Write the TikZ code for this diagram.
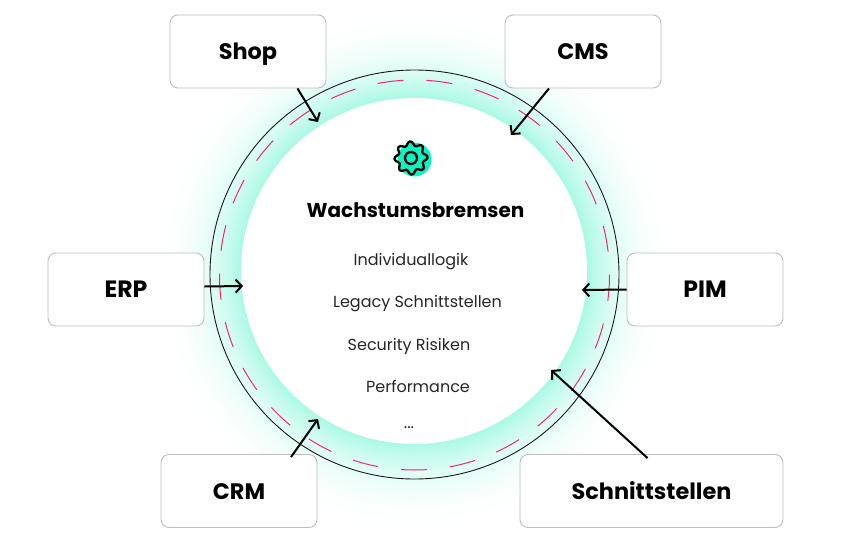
\documentclass[tikz,border=0pt]{standalone}
\usepackage{fontspec}
\setmainfont{Poppins}
\usetikzlibrary{arrows.meta}
\definecolor{mint}{HTML}{A8F9E4}
\definecolor{gearmint}{HTML}{0CF2C0}
\definecolor{dashred}{HTML}{F4286F}
\definecolor{boxgrey}{HTML}{BDBDBD}
\tikzset{
  x=1pt,y=-1pt,
  bx/.style={draw=boxgrey,line width=0.9pt,fill=white,rounded corners=8pt,minimum height=73pt,inner sep=0pt,text height=16pt,text depth=0pt,font=\fontsize{22.4}{26}\selectfont\bfseries},
  conn/.style={draw=black,line width=2pt,-{Straight Barb[length=6pt,width=13pt,line width=2pt]}},
  lbl/.style={anchor=base,font=\fontsize{16}{19}\selectfont,text=black!85,inner sep=0pt}
}
\begin{document}
\begin{tikzpicture}
\useasboundingbox (0,0) rectangle (852,549);
\fill[white] (0,0) rectangle (852,549);
\begin{scope}
\clip (0,0) rectangle (852,549);
\foreach \r in {268,267,...,173}{
  \pgfmathsetmacro{\p}{100*((268-\r)/95)^2.6}
  \fill[mint!\p!white] (414.5,271) circle[radius=\r];
}
\end{scope}
\fill[white] (414,271) circle[radius=173];
\draw[black!90,line width=0.9pt] (414.5,274.5) circle[radius=204.5];
\draw[dashred,line width=1pt,dash pattern=on 26pt off 23pt] (414.5,275) circle[radius=195];
\node[bx,minimum width=156pt] (shop) at (248,51.5) {Shop};
\node[bx,minimum width=156pt] (cms) at (583,51.5) {CMS};
\node[bx,minimum width=156pt,font=\fontsize{23.6}{26}\selectfont\bfseries] (erp) at (126,289.5) {ERP};
\node[bx,minimum width=156pt,font=\fontsize{23.6}{26}\selectfont\bfseries] (pim) at (705,289.5) {PIM};
\node[bx,minimum width=156pt] (crm) at (239,491) {CRM};
\node[bx,minimum width=263pt] (sch) at (651.5,491) {Schnittstellen};
\coordinate (tshop) at (318,122);
\coordinate (tcms) at (511,135);
\coordinate (terp) at (243,286);
\coordinate (tpim) at (582,290);
\coordinate (tcrm) at (318,419);
\coordinate (tsch) at (551,370);
\draw[conn] ([xshift=-29pt]shop.south east) -- (tshop);
\draw[conn] ([xshift=-34pt]cms.south) -- (tcms);
\draw[conn] ([yshift=3pt]erp.east) -- (terp);
\draw[conn] (pim.west) -- (tpim);
\draw[conn] ([xshift=52pt,yshift=-3pt]crm.north) -- (tcrm);
\draw[conn] ([xshift=-4pt,yshift=-4pt]sch.north) -- (tsch);
% gear
\fill[gearmint] (414.5,159.5) circle[radius=17];
\draw[black,line width=2.3pt,line join=round] plot[smooth cycle,samples=49,domain=0:352.5,variable=\t] ({411+(14.6+2.1*cos(8*\t+22))*cos(\t)},{158+(14.6+2.1*cos(8*\t+22))*sin(\t)});
\draw[black,line width=2.3pt] (411,158) circle[radius=6];
\node[anchor=base,inner sep=0pt,font=\fontsize{20}{24}\selectfont\bfseries] (title) at (415.5,217) {Wachstumsbremsen};
\node[lbl] (l1) at (411,265) {Individuallogik};
\node[lbl] (l2) at (417.5,307) {Legacy Schnittstellen};
\node[lbl] (l3) at (409,350) {Security Risiken};
\node[lbl] (l4) at (418,392) {Performance};
\node[lbl] (l5) at (409,428) {...};
\end{tikzpicture}
\end{document}
